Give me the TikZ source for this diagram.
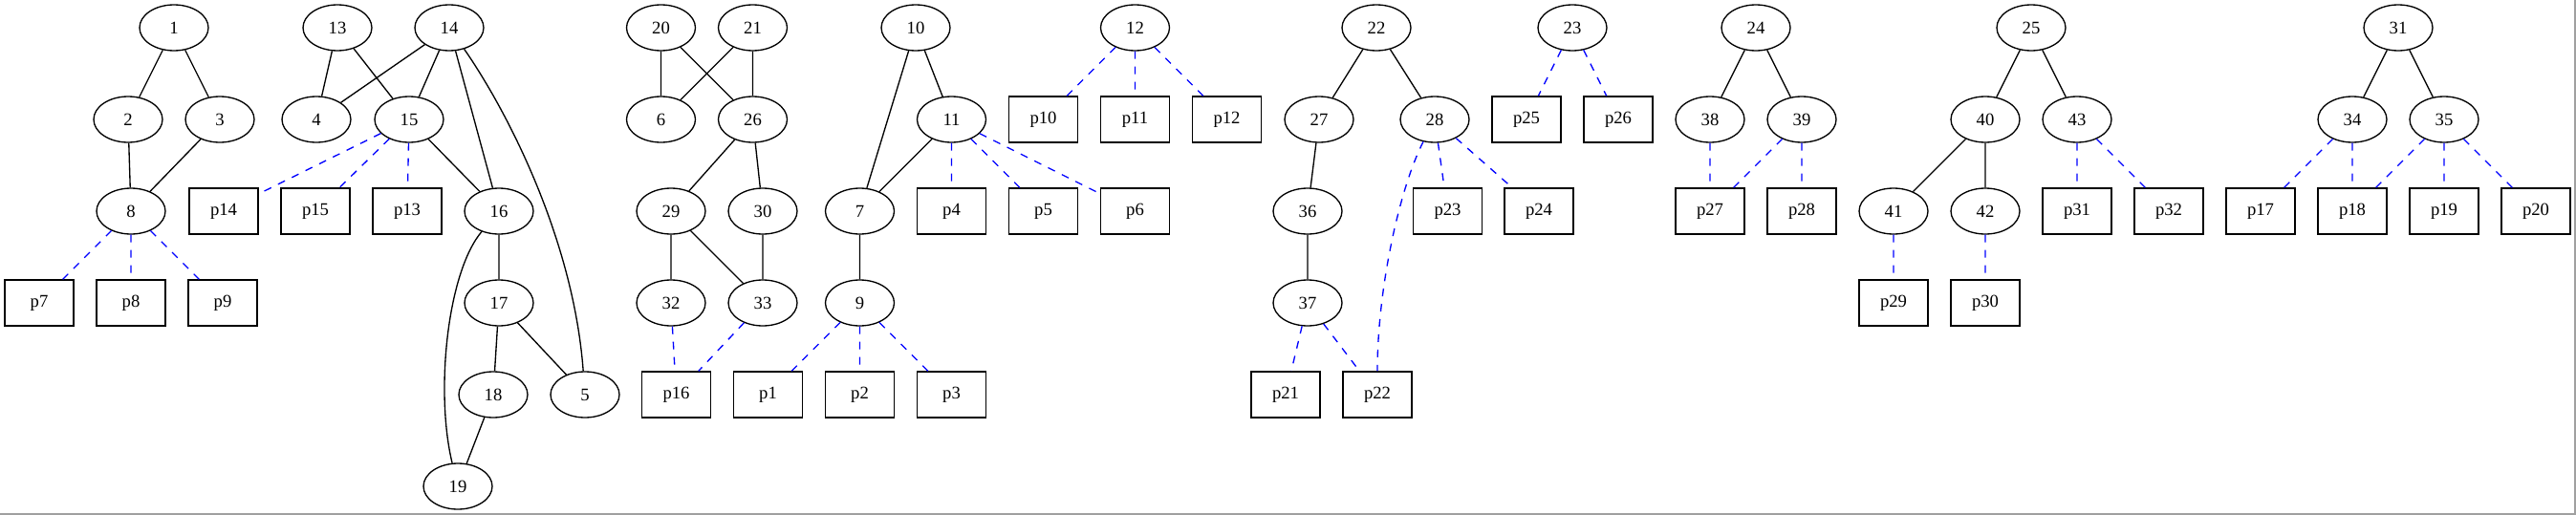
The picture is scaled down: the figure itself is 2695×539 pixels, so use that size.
\documentclass[tikz,border=0pt]{standalone}
\usepackage{fontspec}
\setmainfont{Liberation Serif}
\usetikzlibrary{shapes.geometric}
\definecolor{edgegray}{RGB}{160,160,160}

\begin{document}
\begin{tikzpicture}[x=0.75pt, y=-0.75pt, line width=1pt,
	vtx/.style={ellipse, draw, minimum width=54pt, minimum height=36pt, inner sep=0pt, font=\fontsize{14pt}{16pt}\selectfont},
	leaf/.style={rectangle, draw, minimum width=54pt, minimum height=36pt, inner sep=0pt, font=\fontsize{14pt}{16pt}\selectfont},
	link/.style={draw=black},
	plink/.style={draw=blue, dash pattern=on 6pt off 6pt}]
	\useasboundingbox (0,0) rectangle (2695,539);
	\draw[edgegray, line width=1.5pt] (0,538) -- (2694,538) -- (2694,0);

	\node[vtx] (n1) at (182,29) {1};
	\node[vtx] (n13) at (353,29) {13};
	\node[vtx] (n14) at (470,29) {14};
	\node[vtx] (n20) at (691.5,29) {20};
	\node[vtx] (n21) at (787.5,29) {21};
	\node[vtx] (n10) at (958,29) {10};
	\node[vtx] (n12) at (1187.5,29) {12};
	\node[vtx] (n22) at (1440,29) {22};
	\node[vtx] (n23) at (1645,29) {23};
	\node[vtx] (n24) at (1837,29) {24};
	\node[vtx] (n25) at (2125,29) {25};
	\node[vtx] (n31) at (2509,29) {31};

	\node[vtx] (n2) at (134,125) {2};
	\node[vtx] (n3) at (230,125) {3};
	\node[vtx] (n4) at (331,125) {4};
	\node[vtx] (n15) at (428,125) {15};
	\node[vtx] (n6) at (691.5,125) {6};
	\node[vtx] (n26) at (787.5,125) {26};
	\node[vtx] (n11) at (995.5,125) {11};
	\node[leaf] (p10) at (1091.5,125) {p10};
	\node[leaf] (p11) at (1187.5,125) {p11};
	\node[leaf] (p12) at (1283.5,125) {p12};
	\node[vtx] (n27) at (1380,125) {27};
	\node[vtx] (n28) at (1501,125) {28};
	\node[leaf] (p25) at (1597,125) {p25};
	\node[leaf] (p26) at (1693,125) {p26};
	\node[vtx] (n38) at (1789,125) {38};
	\node[vtx] (n39) at (1885,125) {39};
	\node[vtx] (n40) at (2077,125) {40};
	\node[vtx] (n43) at (2173,125) {43};
	\node[vtx] (n34) at (2461,125) {34};
	\node[vtx] (n35) at (2557,125) {35};

	\node[vtx] (n8) at (137,221) {8};
	\node[leaf] (p14) at (234,221) {p14};
	\node[leaf] (p15) at (330,221) {p15};
	\node[leaf] (p13) at (426,221) {p13};
	\node[vtx] (n16) at (522,221) {16};
	\node[vtx] (n29) at (702,221) {29};
	\node[vtx] (n30) at (798,221) {30};
	\node[vtx] (n7) at (899.5,221) {7};
	\node[leaf] (p4) at (995.5,221) {p4};
	\node[leaf] (p5) at (1091.5,221) {p5};
	\node[leaf] (p6) at (1187.5,221) {p6};
	\node[vtx] (n36) at (1368,221) {36};
	\node[leaf] (p23) at (1514.5,221) {p23};
	\node[leaf] (p24) at (1610,221) {p24};
	\node[leaf] (p27) at (1789,221) {p27};
	\node[leaf] (p28) at (1885,221) {p28};
	\node[vtx] (n41) at (1981,221) {41};
	\node[vtx] (n42) at (2077,221) {42};
	\node[leaf] (p31) at (2173,221) {p31};
	\node[leaf] (p32) at (2269,221) {p32};
	\node[leaf] (p17) at (2365,221) {p17};
	\node[leaf] (p18) at (2461,221) {p18};
	\node[leaf] (p19) at (2557,221) {p19};
	\node[leaf] (p20) at (2653,221) {p20};

	\node[leaf] (p7) at (41,317) {p7};
	\node[leaf] (p8) at (137,317) {p8};
	\node[leaf] (p9) at (233,317) {p9};
	\node[vtx] (n17) at (522,317) {17};
	\node[vtx] (n32) at (702,317) {32};
	\node[vtx] (n33) at (798,317) {33};
	\node[vtx] (n9) at (899.5,317) {9};
	\node[vtx] (n37) at (1368,317) {37};
	\node[leaf] (p29) at (1981,317) {p29};
	\node[leaf] (p30) at (2077,317) {p30};

	\node[vtx] (n18) at (516,413) {18};
	\node[vtx] (n5) at (612,413) {5};
	\node[leaf] (p16) at (707.5,413) {p16};
	\node[leaf] (p1) at (803.5,413) {p1};
	\node[leaf] (p2) at (899.5,413) {p2};
	\node[leaf] (p3) at (995.5,413) {p3};
	\node[leaf] (p21) at (1345,413) {p21};
	\node[leaf] (p22) at (1441,413) {p22};

	\node[vtx] (n19) at (479,509) {19};

	\draw[link] (n1) -- (n2) (n1) -- (n3) (n2) -- (n8) (n3) -- (n8)
		(n13) -- (n4) (n13) -- (n15) (n14) -- (n4) (n14) -- (n15) (n14) -- (n16)
		(n15) -- (n16) (n16) -- (n17) (n17) -- (n18) (n17) -- (n5) (n18) -- (n19)
		(n14) .. controls (530,115) and (600,250) .. (n5)
		(n16) .. controls (468,285) and (455,410) .. (n19)
		(n20) -- (n6) (n20) -- (n26) (n21) -- (n6) (n21) -- (n26)
		(n26) -- (n29) (n26) -- (n30) (n29) -- (n32) (n29) -- (n33) (n30) -- (n33)
		(n10) -- (n7) (n10) -- (n11) (n11) -- (n7) (n7) -- (n9)
		(n22) -- (n27) (n22) -- (n28) (n27) -- (n36) (n36) -- (n37)
		(n24) -- (n38) (n24) -- (n39)
		(n25) -- (n40) (n25) -- (n43) (n40) -- (n41) (n40) -- (n42)
		(n31) -- (n34) (n31) -- (n35);
	\draw[plink] (n15) -- (p14) (n15) -- (p15) (n15) -- (p13)
		(n8) -- (p7) (n8) -- (p8) (n8) -- (p9)
		(n32) -- (p16) (n33) -- (p16) (n9) -- (p1) (n9) -- (p2) (n9) -- (p3)
		(n12) -- (p10) (n12) -- (p11) (n12) -- (p12)
		(n11) -- (p4) (n11) -- (p5) (n11) -- (p6)
		(n28) -- (p23) (n28) -- (p24) (n37) -- (p21) (n37) -- (p22)
		(n28) .. controls (1465,195) and (1441,300) .. (p22.north)
		(n23) -- (p25) (n23) -- (p26)
		(n38) -- (p27) (n39) -- (p27) (n39) -- (p28)
		(n41) -- (p29) (n42) -- (p30) (n43) -- (p31) (n43) -- (p32)
		(n34) -- (p17) (n34) -- (p18) (n35) -- (p18) (n35) -- (p19) (n35) -- (p20);
\end{tikzpicture}
\end{document}
